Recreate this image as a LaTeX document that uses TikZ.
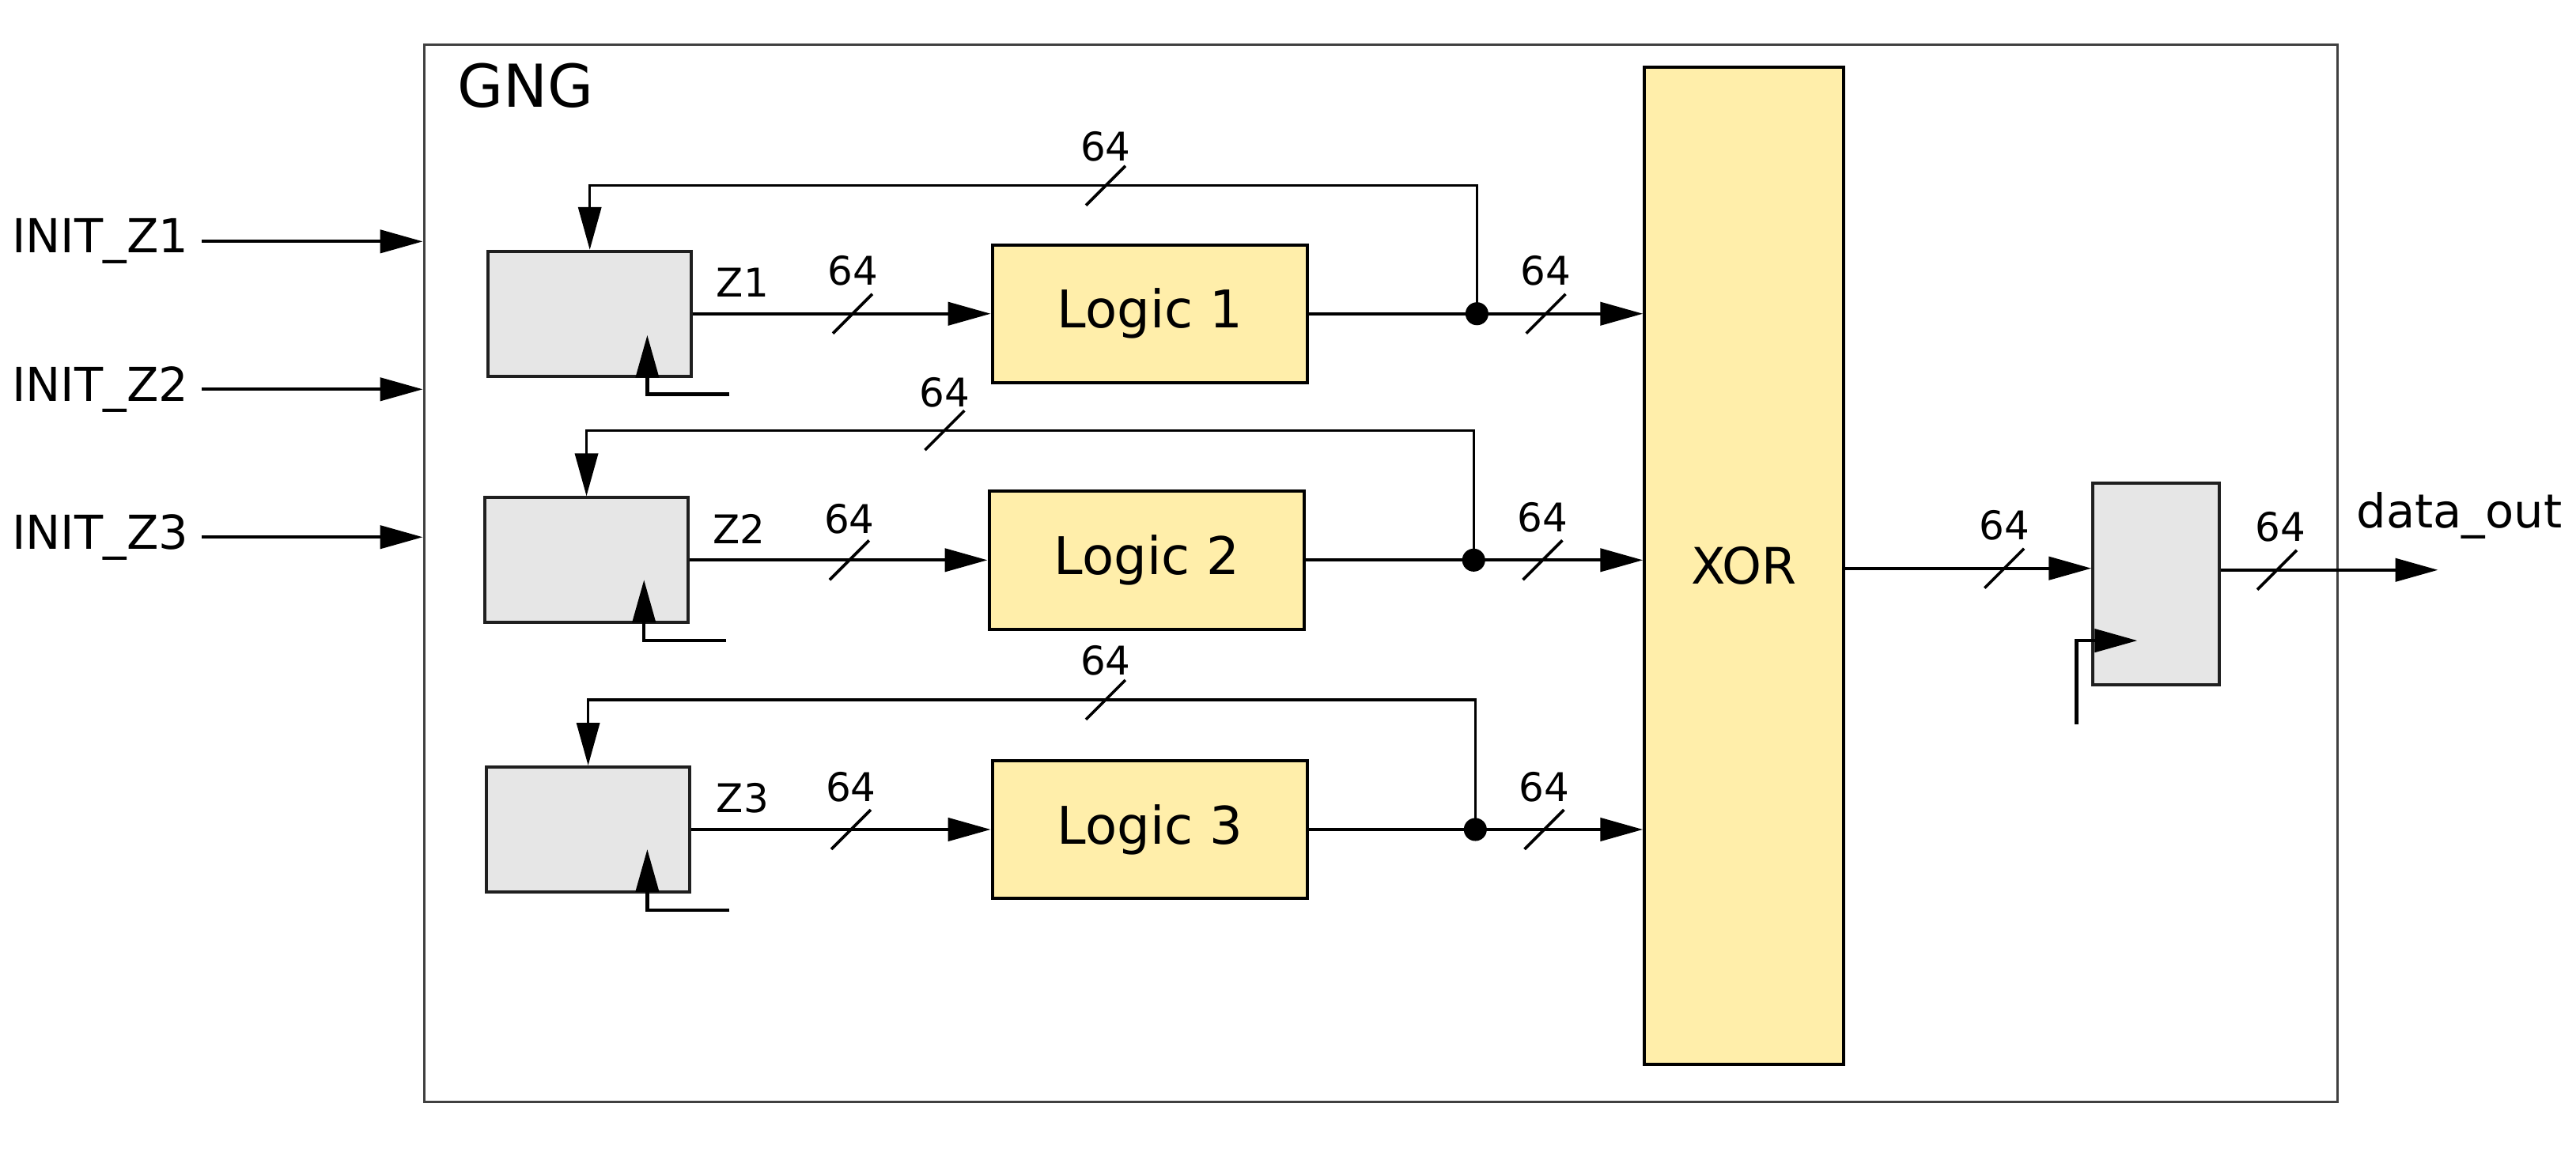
\documentclass[tikz,border=0pt]{standalone}
\usepackage{fontspec}
\setmainfont{DejaVu Sans}
\usetikzlibrary{arrows.meta,calc}
\definecolor{regfill}{HTML}{E6E6E6}
\definecolor{logfill}{HTML}{FFEEAA}
\definecolor{framec}{HTML}{404040}
\begin{document}
\begin{tikzpicture}[x=0.02cm,y=-0.02cm,
  tip/.style={-{Triangle[length=0.52cm,width=0.28cm]}},
  wire/.style={line width=1.15pt,tip},
  plainwire/.style={line width=1.15pt},
  fbwire/.style={line width=0.9pt,tip},
  fbline/.style={line width=0.9pt},
  clkwire/.style={line width=1.15pt,tip},
  slash/.style={line width=1pt},
  regbox/.style={draw=black!88,line width=1.1pt,fill=regfill,minimum width=2.48cm,minimum height=1.52cm,inner sep=0pt},
  logbox/.style={draw=black,line width=1.1pt,fill=logfill,minimum width=3.84cm,minimum height=1.68cm,inner sep=0pt,font=\fontsize{18}{21}\selectfont},
  bus/.style={font=\fontsize{13.7}{16}\selectfont,inner sep=0pt},
  inlab/.style={font=\fontsize{16.2}{19}\selectfont},
  dotnode/.style={circle,fill=black,minimum size=0.28cm,inner sep=0pt},
]
\useasboundingbox (0,0) rectangle (1568,708.2);

% frame
\node[draw=framec,line width=0.85pt,minimum width=23.3cm,minimum height=12.88cm,inner sep=0pt] (gng) at (840.5,349) {};
\node[font=\fontsize{20.5}{24}\selectfont,inner sep=0pt] (gnglab) at (320,52) {GNG};

% inputs
\node[inlab,anchor=east,inner sep=0pt] (in1) at (115,147) {INIT\_Z1};
\node[inlab,anchor=east,inner sep=0pt] (in2) at (115,237) {INIT\_Z2};
\node[inlab,anchor=east,inner sep=0pt] (in3) at (115,327) {INIT\_Z3};
\coordinate (s1) at (123,147);
\coordinate (s2) at (123,237);
\coordinate (s3) at (123,327);
\draw[wire] (s1) -- (s1 -| gng.west);
\draw[wire] (s2) -- (s2 -| gng.west);
\draw[wire] (s3) -- (s3 -| gng.west);

% registers
\node[regbox] (r1) at (359,191) {};
\node[regbox] (r2) at (357,341) {};
\node[regbox] (r3) at (358,505) {};

% logic
\node[logbox] (l1) at (700,191) {Logic 1};
\node[logbox] (l2) at (698,341) {Logic 2};
\node[logbox] (l3) at (700,505) {Logic 3};

% XOR
\node[draw=black,line width=1.1pt,fill=logfill,minimum width=2.42cm,minimum height=12.14cm,inner sep=0pt,font=\fontsize{17.4}{20}\selectfont] (x) at (1061.5,344.5) {XOR};

% output register
\node[draw=black!88,line width=1.1pt,fill=regfill,minimum width=1.54cm,minimum height=2.46cm,inner sep=0pt] (r4) at (1312.5,355.5) {};

% junction dots
\node[dotnode] (d1) at (899,191) {};
\node[dotnode] (d2) at (897,341) {};
\node[dotnode] (d3) at (898,505) {};

% register -> logic
\draw[wire] (r1.east) -- (l1.west);
\draw[wire] (r2.east) -- (l2.west);
\draw[wire] (r3.east) -- (l3.west);

% logic -> xor
\draw[plainwire] (l1.east) -- (d1.center);
\draw[plainwire] (l2.east) -- (d2.center);
\draw[plainwire] (l3.east) -- (d3.center);
\draw[wire] (d1.center) -- (d1 -| x.west);
\draw[wire] (d2.center) -- (d2 -| x.west);
\draw[wire] (d3.center) -- (d3 -| x.west);

% feedback
\coordinate (t1) at (899,113);
\coordinate (t2) at (897,262);
\coordinate (t3) at (898,426);
\draw[fbwire] (d1.center) -- (t1) -| (r1.north);
\draw[fbwire] (d2.center) -- (t2) -| (r2.north);
\draw[fbwire] (d3.center) -- (t3) -| (r3.north);

% clocks
\coordinate (c1) at (444,240); \coordinate (k1) at (394,204);
\coordinate (c2) at (442,390); \coordinate (k2) at (392,353);
\coordinate (c3) at (444,554); \coordinate (k3) at (394,517);
\draw[clkwire] (c1) -| (k1);
\draw[clkwire] (c2) -| (k2);
\draw[clkwire] (c3) -| (k3);
\coordinate (c4) at (1264,441); \coordinate (k4) at (1301,390);
\draw[clkwire] (c4) |- (k4);

% xor -> r4 -> out
\coordinate (m) at (0,346);
\draw[wire] (x.east |- m) -- (r4.west |- m);
\coordinate (o) at (1484,347);
\draw[wire] (r4.east |- o) -- (o);
\node[inlab,inner sep=0pt] (dout) at (1497,314) {data\_out};

% Z labels
\node[bus] (z1) at (452,172) {Z1};
\node[bus] (z2) at (450,322) {Z2};
\node[bus] (z3) at (452,486) {Z3};

% bus slashes and widths
\foreach \n/\px/\py/\lx/\ly in {a/673/113/673/89, b/519/191/519/165, c/941/191/941/165,
  d/575/262/575/239, e/517/341/517/316, f/939/341/939/315,
  g/673/426/673/402, h/518/505/518/479, i/940/505/940/479,
  j/1220/346/1220/320, k/1386/347/1388/321}{
  \draw[slash] (\px-12,\py+12) -- (\px+12,\py-12);
  \node[bus] (w\n) at (\lx,\ly) {64};
}
\end{tikzpicture}
\end{document}
